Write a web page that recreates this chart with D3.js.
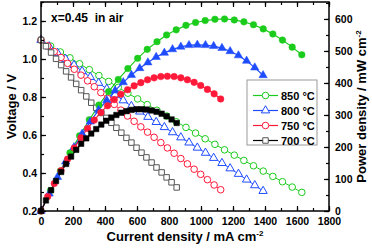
<!DOCTYPE html>
<html>
<head>
<meta charset="utf-8">
<script src="https://cdn.jsdelivr.net/npm/d3@7"></script>
<style>
  body { margin: 0; background: #fff; }
  svg { display: block; font-family: Arial, "Liberation Sans", sans-serif; font-weight: bold; }
  .note { white-space: pre; }
</style>
</head>
<body>
<div id="canvas"></div>
<script>
// current density (mA cm-2), voltage (V) and power density (mW cm-2) per temperature
const current850 = [0, 60, 121, 181, 241, 302, 362, 423, 483, 543, 604, 664, 725, 785, 845, 906, 966, 1026, 1087, 1147, 1208, 1268, 1328, 1389, 1449, 1509, 1570, 1630];
const voltage850 = [1.100, 1.068, 1.037, 1.006, 0.975, 0.944, 0.913, 0.882, 0.851, 0.820, 0.790, 0.760, 0.730, 0.700, 0.670, 0.640, 0.610, 0.580, 0.551, 0.522, 0.494, 0.466, 0.438, 0.410, 0.382, 0.354, 0.326, 0.298];
const power850 = [0, 64, 125, 182, 235, 285, 331, 373, 411, 445, 477, 505, 529, 550, 566, 580, 589, 595, 599, 600, 597, 591, 582, 569, 553, 534, 512, 488];

const current800 = [0, 51, 103, 154, 206, 257, 308, 360, 411, 463, 514, 565, 617, 668, 720, 771, 822, 874, 925, 977, 1028, 1079, 1131, 1182, 1234, 1285, 1336, 1388];
const voltage800 = [1.100, 1.066, 1.032, 1.000, 0.968, 0.936, 0.905, 0.874, 0.843, 0.812, 0.782, 0.752, 0.723, 0.695, 0.668, 0.641, 0.614, 0.587, 0.560, 0.533, 0.506, 0.479, 0.452, 0.424, 0.395, 0.365, 0.335, 0.305];
const power800 = [0, 54, 106, 154, 199, 241, 279, 315, 346, 376, 402, 425, 446, 464, 481, 494, 505, 513, 518, 519, 518, 515, 509, 499, 486, 469, 448, 424];

const current750 = [0, 42, 83, 125, 166, 208, 250, 291, 333, 374, 416, 458, 499, 541, 582, 624, 666, 707, 749, 790, 832, 874, 915, 957, 998, 1040, 1082, 1123];
const voltage750 = [1.100, 1.069, 1.039, 1.008, 0.977, 0.946, 0.915, 0.885, 0.854, 0.823, 0.792, 0.761, 0.731, 0.700, 0.672, 0.643, 0.615, 0.588, 0.560, 0.532, 0.504, 0.476, 0.448, 0.420, 0.393, 0.365, 0.337, 0.312];
const power750 = [0, 45, 86, 126, 162, 197, 229, 258, 284, 308, 329, 348, 365, 379, 391, 401, 410, 416, 420, 421, 420, 416, 410, 402, 392, 380, 366, 350];

const current700 = [0, 31, 63, 94, 126, 157, 188, 220, 251, 283, 314, 345, 377, 408, 440, 471, 502, 534, 565, 597, 628, 659, 691, 722, 754, 785, 816, 848];
const voltage700 = [1.100, 1.067, 1.034, 1.001, 0.968, 0.935, 0.903, 0.869, 0.836, 0.803, 0.770, 0.743, 0.716, 0.690, 0.664, 0.638, 0.612, 0.585, 0.560, 0.533, 0.507, 0.482, 0.455, 0.429, 0.403, 0.377, 0.351, 0.324];
const power700 = [0, 33, 65, 94, 122, 147, 170, 191, 210, 227, 242, 256, 270, 282, 292, 300, 307, 312, 316, 318, 318, 317, 314, 310, 304, 296, 286, 275];

const labels = ["850 °C", "800 °C", "750 °C", "700 °C"];
const colors = ["#1ccc1c", "#1f4cff", "#ff1a3a", "#000000"];
const shapes = [d3.symbolCircle, d3.symbolTriangle, d3.symbolCircle, d3.symbolSquare];

const xTicks = [0, 200, 400, 600, 800, 1000, 1200, 1400, 1600, 1800];
const vTicks = [0.2, 0.4, 0.6, 0.8, 1.0, 1.2];
const pTicks = [0, 100, 200, 300, 400, 500, 600];

const series = [
  { I: current850, V: voltage850, P: power850 },
  { I: current800, V: voltage800, P: power800 },
  { I: current750, V: voltage750, P: power750 },
  { I: current700, V: voltage700, P: power700 },
];

const width = 372;
const height = 249;
const plotLeft = 41, plotRight = 329, plotTop = 2, plotBottom = 211;

const xScale = d3.scaleLinear([0, 1800], [plotLeft, plotRight]);
const vScale = d3.scaleLinear([0.2, 1.3], [plotBottom, plotTop]);
const pScale = d3.scaleLinear([0, 653], [plotBottom, plotTop]);

const svg = d3
  .select("#canvas")
  .append("svg")
  .attr("width", width)
  .attr("height", height)
  .attr("viewBox", [0, 0, width, height]);

const symbolSize = (s) => (s === d3.symbolCircle ? 34 : 30);

// Draw curves: voltage (open) first, power (filled) on top
series.forEach((s, k) => {
  const idx = d3.range(s.I.length);
  const vLine = d3.line().x((i) => xScale(s.I[i])).y((i) => vScale(s.V[i]));
  const pLine = d3.line().x((i) => xScale(s.I[i])).y((i) => pScale(s.P[i]));

  svg.append("path")
    .attr("fill", "none")
    .attr("stroke", colors[k])
    .attr("stroke-width", 1)
    .attr("d", vLine(idx));

  svg.append("g")
    .selectAll("path")
    .data(idx)
    .join("path")
    .attr("transform", (i) => `translate(${xScale(s.I[i])},${vScale(s.V[i])})`)
    .attr("d", d3.symbol(shapes[k], symbolSize(shapes[k])))
    .attr("fill", "#fff")
    .attr("stroke", k === 3 ? "#555" : colors[k])
    .attr("stroke-width", 1);

  svg.append("path")
    .attr("fill", "none")
    .attr("stroke", colors[k])
    .attr("stroke-width", 1.2)
    .attr("d", pLine(idx));
});

series.forEach((s, k) => {
  const idx = d3.range(s.I.length);
  svg.append("g")
    .selectAll("path")
    .data(idx)
    .join("path")
    .attr("transform", (i) => `translate(${xScale(s.I[i])},${pScale(s.P[i])})`)
    .attr("d", d3.symbol(shapes[k], symbolSize(shapes[k])))
    .attr("fill", colors[k])
    .attr("stroke", colors[k])
    .attr("stroke-width", 0.5);
});

// Axes, ticks point inward
const minorX = d3.range(0, 1801, 100);
const minorV = d3.range(0.2, 1.31, 0.1);
const minorP = d3.range(0, 651, 50);

function styleAxis(g) {
  g.select(".domain").remove();
  g.selectAll(".tick line").attr("stroke", "#000").attr("stroke-width", 1.2);
  g.selectAll(".tick text").attr("fill", "#000").attr("font-size", 10.5).attr("font-weight", "bold");
}

svg.append("g").attr("transform", `translate(0,${plotBottom})`)
  .call(d3.axisBottom(xScale).tickValues(minorX).tickSize(-3).tickFormat("")).call(styleAxis);
svg.append("g").attr("transform", `translate(0,${plotBottom})`)
  .call(d3.axisBottom(xScale).tickValues(xTicks).tickSize(-5).tickPadding(7).tickFormat(d3.format("d"))).call(styleAxis);
svg.append("g").attr("transform", `translate(0,${plotTop})`)
  .call(d3.axisTop(xScale).tickValues(minorX).tickSize(-3).tickFormat("")).call(styleAxis);
svg.append("g").attr("transform", `translate(0,${plotTop})`)
  .call(d3.axisTop(xScale).tickValues(xTicks).tickSize(-5).tickFormat("")).call(styleAxis);

svg.append("g").attr("transform", `translate(${plotLeft},0)`)
  .call(d3.axisLeft(vScale).tickValues(minorV).tickSize(-3).tickFormat("")).call(styleAxis);
svg.append("g").attr("transform", `translate(${plotLeft},0)`)
  .call(d3.axisLeft(vScale).tickValues(vTicks).tickSize(-5).tickPadding(4).tickFormat(d3.format(".1f"))).call(styleAxis);

svg.append("g").attr("transform", `translate(${plotRight},0)`)
  .call(d3.axisRight(pScale).tickValues(minorP).tickSize(-3).tickFormat("")).call(styleAxis);
svg.append("g").attr("transform", `translate(${plotRight},0)`)
  .call(d3.axisRight(pScale).tickValues(pTicks).tickSize(-5).tickPadding(6).tickFormat(d3.format("d"))).call(styleAxis);

// Frame
svg.append("rect")
  .attr("x", plotLeft).attr("y", plotTop)
  .attr("width", plotRight - plotLeft).attr("height", plotBottom - plotTop)
  .attr("fill", "none").attr("stroke", "#000").attr("stroke-width", 1.5);

// Axis titles
svg.append("text")
  .attr("transform", `translate(16,${(plotTop + plotBottom) / 2}) rotate(-90)`)
  .attr("text-anchor", "middle")
  .attr("font-size", 13)
  .text("Voltage / V");

const xTitle = svg.append("text")
  .attr("x", (plotLeft + plotRight) / 2)
  .attr("y", 241)
  .attr("text-anchor", "middle")
  .attr("font-size", 13);
xTitle.append("tspan").text("Current density / mA cm");
xTitle.append("tspan").attr("dy", -5).attr("font-size", 8).text("-2");

const pTitle = svg.append("text")
  .attr("transform", `translate(366,${(plotTop + plotBottom) / 2}) rotate(-90)`)
  .attr("text-anchor", "middle")
  .attr("font-size", 13);
pTitle.append("tspan").text("Power density / mW cm");
pTitle.append("tspan").attr("dy", -5).attr("font-size", 8).text("-2");

svg.append("text")
  .attr("class", "note")
  .attr("x", 51)
  .attr("y", 22)
  .attr("font-size", 12)
  .text("x=0.45  in air");

// Legend
const legend = svg.append("g");
legend.append("rect")
  .attr("x", 247).attr("y", 80)
  .attr("width", 70).attr("height", 65)
  .attr("fill", "#fff").attr("stroke", "#999").attr("stroke-width", 1);

labels.forEach((label, k) => {
  const y = 95.5 + k * 15;
  legend.append("line")
    .attr("x1", 253).attr("x2", 278).attr("y1", y).attr("y2", y)
    .attr("stroke", colors[k]).attr("stroke-width", 1.2);
  legend.append("path")
    .attr("transform", `translate(265.5,${y})`)
    .attr("d", d3.symbol(shapes[k], symbolSize(shapes[k])))
    .attr("fill", "#fff")
    .attr("stroke", k === 3 ? "#555" : colors[k]);
  legend.append("text")
    .attr("x", 281).attr("y", y + 4)
    .attr("font-size", 11)
    .text(label);
});
</script>
</body>
</html>
